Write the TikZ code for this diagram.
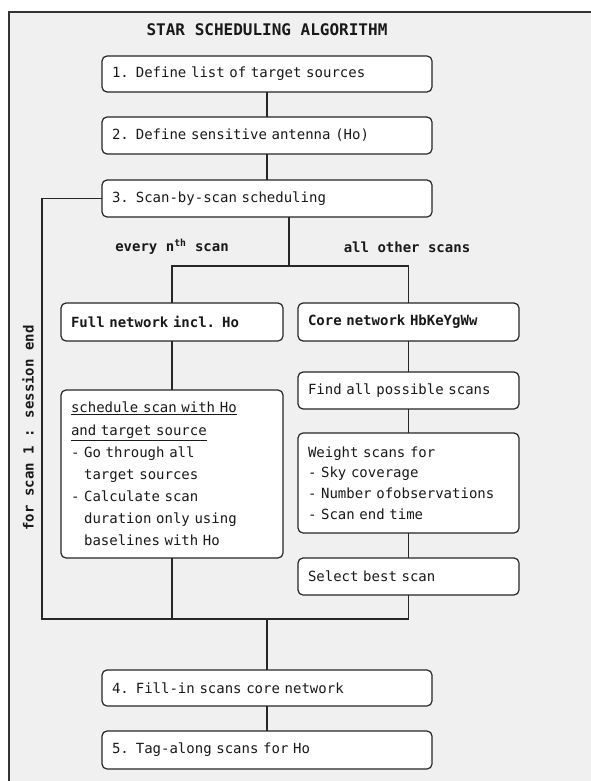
\documentclass[tikz,border=0pt]{standalone}
\usepackage{fontspec}
\setmainfont{DejaVu Sans Mono}
\newfontfamily\dvm{DejaVu Sans Mono}
\newcommand\fsz[2]{\dvm\fontsize{#1}{#2}\selectfont}
\begin{document}
\begin{tikzpicture}[x=1pt,y=-1pt,
  every node/.style={font=\fsz{14}{20}, text=black!90},
  box/.style={draw=black!85, line width=1.2pt, fill=white, rounded corners=5pt,
    inner xsep=10pt, inner ysep=0pt, outer sep=0pt, align=left, anchor=north west},
  conn/.style={draw=black!85, line width=1.9pt},
  lbl/.style={font=\fsz{14}{20}\bfseries}]
\useasboundingbox (0,0) rectangle (590,781);
\fill[white] (0,0) rectangle (590,781);
\draw[draw=black!80, line width=1.3pt, fill=black!6] (9,12) rectangle (620,820);
\node[font=\fsz{16}{20}\bfseries] (title) at (267,30) {STAR SCHEDULING ALGORITHM};
\node[box, text width=310pt, minimum height=36pt] (b1) at (102,56) {1. Define list of target sources};
\node[box, text width=310pt, minimum height=37pt] (b2) at (102,117) {2. Define sensitive antenna (Ho)};
\node[box, text width=310pt, minimum height=37pt] (b3) at (102,180) {3. Scan-by-scan scheduling};
\node[lbl] (ln) at (172,247) {every n\textsuperscript{th} scan};
\node[lbl] (lo) at (407,247) {all other scans};
\node[box, text width=202pt, minimum height=38pt, font=\fsz{14}{20}\bfseries] (fn) at (61,303) {Full network incl. Ho};
\node[box, text width=201pt, minimum height=38pt, font=\fsz{14}{20}\bfseries] (cn) at (298,303) {Core network HbKeYgWw};
\node[box, text width=202pt, minimum height=168pt, font=\fsz{14}{22}] (sch) at (61,390)
 {\underline{schedule scan with Ho}\\[1pt]
  \underline{and target source}\\
  - Go through all\\
  \hphantom{- }target sources\\
  - Calculate scan\\
  \hphantom{- }duration only using\\
  \hphantom{- }baselines with Ho};
\node[box, text width=201pt, minimum height=37pt] (find) at (298,372) {Find all possible scans};
\node[box, text width=201pt, minimum height=100pt, font=\fsz{14}{20.7}] (wt) at (298,433)
 {Weight scans for\\
  - Sky coverage\\
  - Number ofobservations\\
  - Scan end time};
\node[box, text width=201pt, minimum height=37pt] (sel) at (298,558) {Select best scan};
\node[box, text width=310pt, minimum height=36pt] (b4) at (102,670) {4. Fill-in scans core network};
\node[box, text width=310pt, minimum height=38pt] (b5) at (102,731) {5. Tag-along scans for Ho};
\node[lbl, rotate=90] (loop) at (28,428) {for scan 1 : session end};
\coordinate (br) at (289,266);
\coordinate (lb) at (42,619);
\draw[conn] (b1) -- (b2);
\draw[conn] (b2) -- (b3);
\draw[conn] (b3.south -| br) -- (br);
\draw[conn] (fn.north) |- (br) -| (cn.north);
\draw[conn] (fn) -- (sch);
\draw[conn] (cn) -- (find);
\draw[conn] (find) -- (wt);
\draw[conn] (wt) -- (sel);
\draw[conn] (b3.west) -| (lb) -- (sel.south |- lb) -- (sel.south);
\draw[conn] (sch.south) -- (sch.south |- lb);
\draw[conn] (b4.north |- lb) -- (b4.north);
\draw[conn] (b4) -- (b5);
\end{tikzpicture}
\end{document}
